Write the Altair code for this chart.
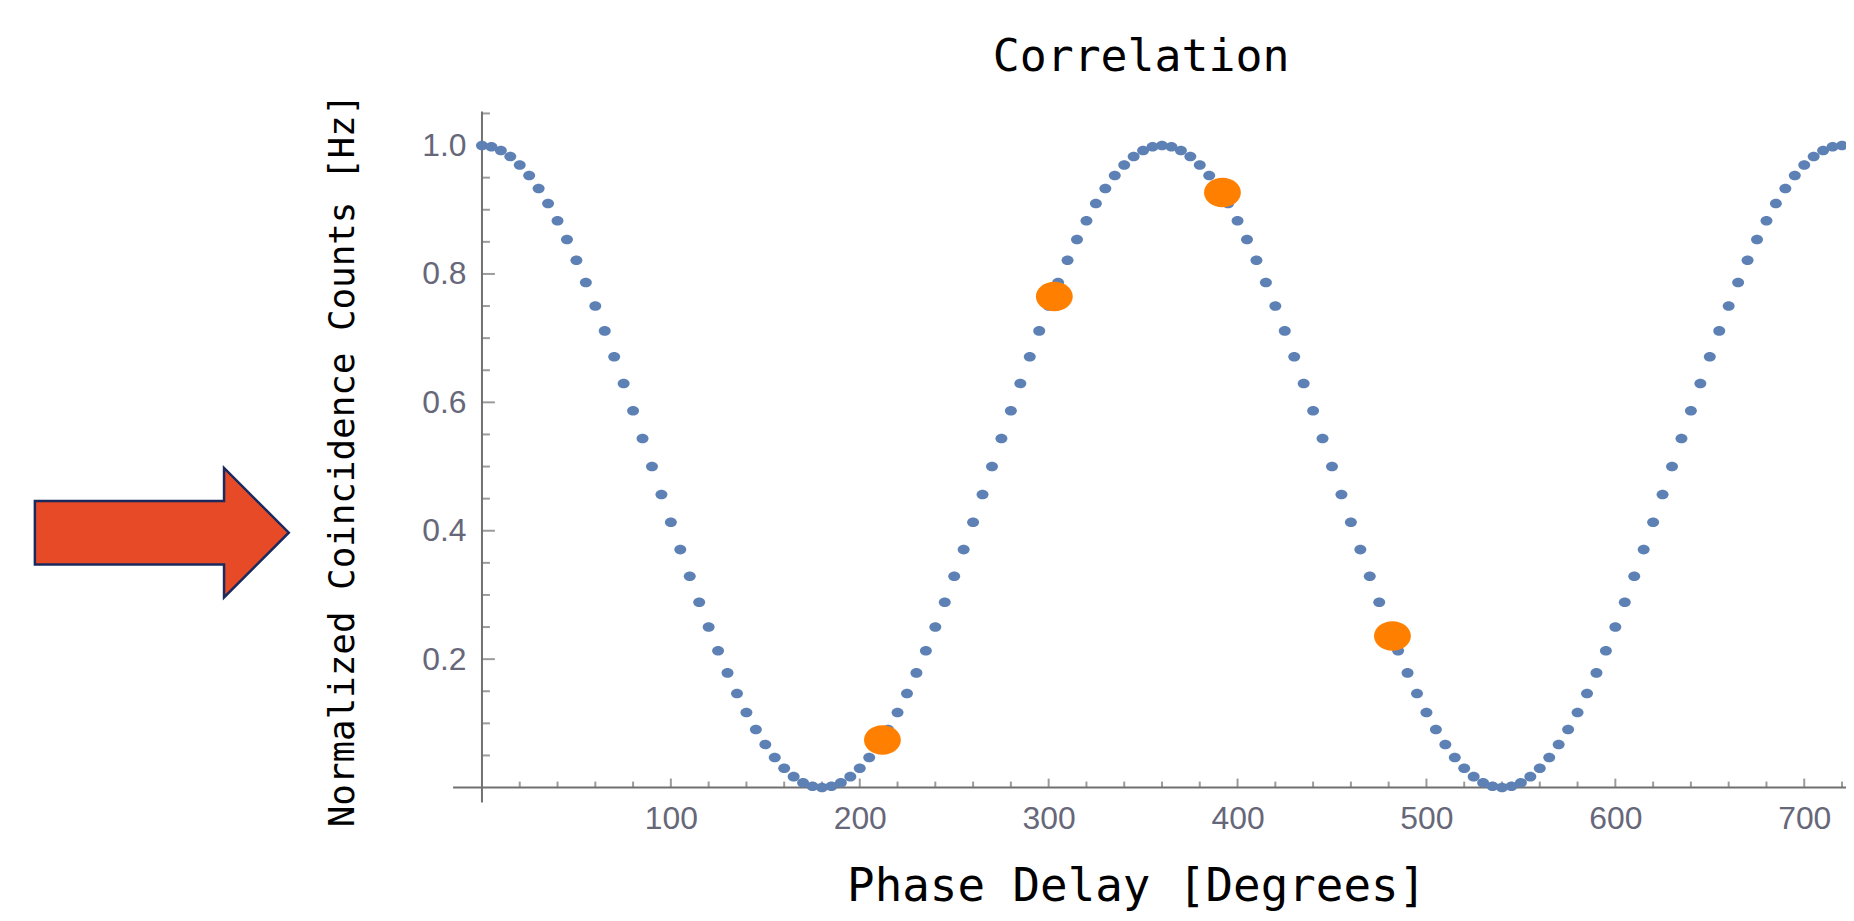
import altair as alt
import pandas as pd

# ---------------- data ----------------
phase = list(range(0, 725, 5))  # blue samples every 5 degrees, 0..720
counts = [
    1.0000, 0.9981, 0.9924, 0.9830, 0.9698, 0.9532, 0.9330, 0.9096, 0.8830, 0.8536,
    0.8214, 0.7868, 0.7500, 0.7113, 0.6710, 0.6294, 0.5868, 0.5436, 0.5000, 0.4564,
    0.4132, 0.3706, 0.3290, 0.2887, 0.2500, 0.2132, 0.1786, 0.1464, 0.1170, 0.0904,
    0.0670, 0.0468, 0.0302, 0.0170, 0.0076, 0.0019, 0.0000, 0.0019, 0.0076, 0.0170,
    0.0302, 0.0468, 0.0670, 0.0904, 0.1170, 0.1464, 0.1786, 0.2132, 0.2500, 0.2887,
    0.3290, 0.3706, 0.4132, 0.4564, 0.5000, 0.5436, 0.5868, 0.6294, 0.6710, 0.7113,
    0.7500, 0.7868, 0.8214, 0.8536, 0.8830, 0.9096, 0.9330, 0.9532, 0.9698, 0.9830,
    0.9924, 0.9981, 1.0000, 0.9981, 0.9924, 0.9830, 0.9698, 0.9532, 0.9330, 0.9096,
    0.8830, 0.8536, 0.8214, 0.7868, 0.7500, 0.7113, 0.6710, 0.6294, 0.5868, 0.5436,
    0.5000, 0.4564, 0.4132, 0.3706, 0.3290, 0.2887, 0.2500, 0.2132, 0.1786, 0.1464,
    0.1170, 0.0904, 0.0670, 0.0468, 0.0302, 0.0170, 0.0076, 0.0019, 0.0000, 0.0019,
    0.0076, 0.0170, 0.0302, 0.0468, 0.0670, 0.0904, 0.1170, 0.1464, 0.1786, 0.2132,
    0.2500, 0.2887, 0.3290, 0.3706, 0.4132, 0.4564, 0.5000, 0.5436, 0.5868, 0.6294,
    0.6710, 0.7113, 0.7500, 0.7868, 0.8214, 0.8536, 0.8830, 0.9096, 0.9330, 0.9532,
    0.9698, 0.9830, 0.9924, 0.9981, 1.0000,
]

meas_phase = [212, 303, 392, 482]
meas_counts = [0.074, 0.765, 0.927, 0.236]

x_major_ticks = [100, 200, 300, 400, 500, 600, 700]
x_minor_ticks = [20, 40, 60, 80, 120, 140, 160, 180, 220, 240, 260, 280, 320, 340, 360,
                 380, 420, 440, 460, 480, 520, 540, 560, 580, 620, 640, 660, 680, 720]
y_major_ticks = [0.2, 0.4, 0.6, 0.8, 1.0]
y_minor_ticks = [0.05, 0.1, 0.15, 0.25, 0.3, 0.35, 0.45, 0.5, 0.55, 0.65, 0.7, 0.75,
                 0.85, 0.9, 0.95, 1.05]

chart_title = "Correlation"

# ---------------- styling ----------------
BLUE = "#5E81B5"
ORANGE = "#FF8000"
AXIS = "#707070"
LABEL = "#67677A"
MONO = "DejaVu Sans Mono"
SANS = "Liberation Sans"
ELLIPSE = "M -1 0 A 1 0.8 0 1 0 1 0 A 1 0.8 0 1 0 -1 0 Z"
ARROW = "M -1 -0.25 L 0.49 -0.25 L 0.49 -0.51 L 1 0 L 0.49 0.51 L 0.49 0.25 L -1 0.25 Z"

W, H = 1395, 694
xscale = alt.Scale(domain=[-15.3, 720], nice=False, zero=False)
yscale = alt.Scale(domain=[-0.0233, 1.053], nice=False, zero=False)

x_axis = alt.Axis(
    values=x_major_ticks, format="d", domain=False, ticks=False, tickSize=0, grid=False,
    labelFont=SANS, labelFontSize=32, labelColor=LABEL, labelPadding=1,
    title="Phase Delay [Degrees]", titleFont=MONO, titleFontSize=46,
    titleFontWeight="normal", titleColor="black", titleX=686, titleY=98,
    titleAlign="center", titleBaseline="alphabetic", titleAngle=0,
)
y_axis = alt.Axis(
    values=y_major_ticks, format=".1f", domain=False, ticks=False, tickSize=0, grid=False,
    labelFont=SANS, labelFontSize=32, labelColor=LABEL, labelPadding=-13,
    title="Normalized Coincidence Counts [Hz]", titleFont=MONO, titleFontSize=36,
    titleFontWeight="normal", titleColor="black", titleX=-100, titleY=350,
    titleAlign="center", titleBaseline="alphabetic", titleAngle=270,
)


def X(f):
    return alt.X(f"{f}:Q", scale=xscale, axis=x_axis)


def Y(f):
    return alt.Y(f"{f}:Q", scale=yscale, axis=y_axis)


curve_df = pd.DataFrame({"phase": phase, "counts": counts})
meas_df = pd.DataFrame({"phase": meas_phase, "counts": meas_counts})
xmaj_df = pd.DataFrame({"phase": x_major_ticks, "counts": 0})
xmin_df = pd.DataFrame({"phase": x_minor_ticks, "counts": 0})
ymaj_df = pd.DataFrame({"counts": y_major_ticks, "phase": 0})
ymin_df = pd.DataFrame({"counts": y_minor_ticks, "phase": 0})
zero_df = pd.DataFrame({"phase": [0], "counts": [0]})
one_df = pd.DataFrame({"label": [chart_title]})

x_line = alt.Chart(zero_df).mark_rule(color=AXIS, strokeWidth=2).encode(
    y=Y("counts"), x=alt.value(0), x2=alt.value(1402))
y_line = alt.Chart(zero_df).mark_rule(color=AXIS, strokeWidth=2).encode(
    x=X("phase"), y=alt.value(0), y2=alt.value("height"))

xmaj = alt.Chart(xmaj_df).mark_tick(orient="vertical", size=9, thickness=2,
                                    color=AXIS, yOffset=-4.5).encode(x=X("phase"), y=Y("counts"))
xmin = alt.Chart(xmin_df).mark_tick(orient="vertical", size=6, thickness=2,
                                    color=AXIS, yOffset=-3).encode(x=X("phase"), y=Y("counts"))
ymaj = alt.Chart(ymaj_df).mark_tick(orient="horizontal", size=13, thickness=2,
                                    color=AXIS, xOffset=6.5).encode(x=X("phase"), y=Y("counts"))
ymin = alt.Chart(ymin_df).mark_tick(orient="horizontal", size=8, thickness=2,
                                    color=AXIS, xOffset=4).encode(x=X("phase"), y=Y("counts"))

curve = alt.Chart(curve_df).mark_point(
    shape=ELLIPSE, size=144, filled=True, fill=BLUE, strokeWidth=0, opacity=1
).encode(x=X("phase"), y=Y("counts"))

meas = alt.Chart(meas_df).mark_point(
    shape=ELLIPSE, size=1369, filled=True, fill=ORANGE, strokeWidth=0, opacity=1
).encode(x=X("phase"), y=Y("counts"))

arrow = alt.Chart(one_df).mark_point(
    shape=ARROW, size=65025, filled=True, fill="#E64A27", stroke="#1B2A5E",
    strokeWidth=2.5, opacity=1
).encode(x=alt.value(-292.5), y=alt.value(423))

title = alt.Chart(one_df).mark_text(
    font=MONO, fontSize=45, color="black", align="center", baseline="alphabetic"
).encode(text="label:N", x=alt.value(691), y=alt.value(-41))

chart = alt.layer(x_line, y_line, xmaj, xmin, ymaj, ymin, curve, meas, arrow, title).properties(
    width=W,
    height=H,
    background="white",
    autosize=alt.AutoSizeParams(type="none"),
    padding={"left": 447, "top": 102, "right": 4, "bottom": 108},
).configure_view(strokeWidth=0, stroke="transparent")

chart.save("out.html", embed_options={"renderer": "svg", "actions": False})
